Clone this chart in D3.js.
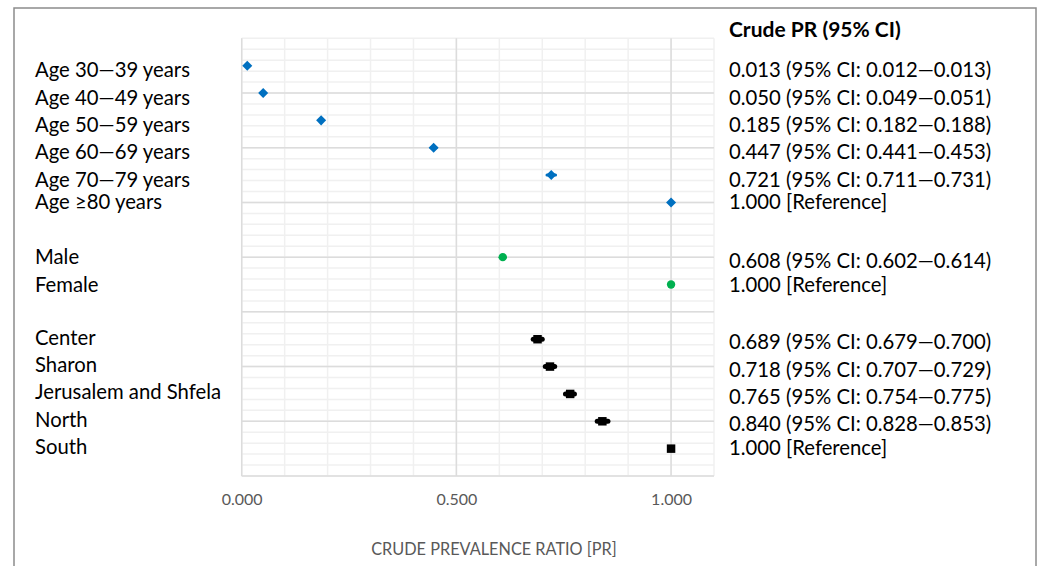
<!DOCTYPE html>
<html>
<head>
<meta charset="utf-8">
<script src="https://cdn.jsdelivr.net/npm/d3@7"></script>
<style>
  body { margin: 0; background: #fff; }
  svg text { font-family: Lato, "Open Sans", sans-serif; }
</style>
</head>
<body>
<div id="app"></div>
<script>
// rows of the forest plot
const labels = [
  'Age 30—39 years', 'Age 40—49 years', 'Age 50—59 years', 'Age 60—69 years',
  'Age 70—79 years', 'Age ≥80 years',
  'Male', 'Female',
  'Center', 'Sharon', 'Jerusalem and Shfela', 'North', 'South'
];
const groups = ['age', 'age', 'age', 'age', 'age', 'age', 'sex', 'sex',
  'region', 'region', 'region', 'region', 'region'];
// position on the hidden vertical axis (0 = top)
const rowPos = [0.5, 1, 1.5, 2, 2.5, 3, 4, 4.5, 5.5, 6, 6.5, 7, 7.5];
const pr = [0.013, 0.050, 0.185, 0.447, 0.721, 1.000, 0.608, 1.000, 0.689, 0.718, 0.765, 0.840, 1.000];
const ciLow = [0.012, 0.049, 0.182, 0.441, 0.711, null, 0.602, null, 0.679, 0.707, 0.754, 0.828, null];
const ciHigh = [0.013, 0.051, 0.188, 0.453, 0.731, null, 0.614, null, 0.700, 0.729, 0.775, 0.853, null];
const xTicks = [0, 0.5, 1.0];

const colors = { age: '#0070c0', sex: '#00b050', region: '#000000' };
// text boxes sit slightly off the marker rows
const leftOffset = (d) => d.group === 'age' ? (d.lo == null ? -1.6 : 3.7)
  : d.group === 'sex' ? -1 : -2.7;
const rightOffset = (d) => d.lo == null ? (d.group === 'sex' ? -0.5 : -1.5)
  : d.group === 'age' ? 3.5 : d.group === 'sex' ? 3 : 2;

const data = labels.map((label, i) => ({
  label, group: groups[i], row: rowPos[i], pr: pr[i], lo: ciLow[i], hi: ciHigh[i]
}));

const width = 1042, height = 566;
const svg = d3.select('#app').append('svg')
  .attr('width', width).attr('height', height);

// outer frame
svg.append('rect')
  .attr('x', 14).attr('y', 8).attr('width', 1022).attr('height', 570)
  .attr('fill', 'none').attr('stroke', '#8c8c8c').attr('stroke-width', 1.5);

const x = d3.scaleLinear().domain([0, 1.1]).range([241.7, 714]);
const y = d3.scaleLinear().domain([0, 8]).range([38.3, 476]);

const grid = svg.append('g');
// minor gridlines
grid.selectAll('line.vminor')
  .data(d3.range(0, 11.5, 1).map((d) => d / 10))
  .join('line')
  .attr('x1', (d) => x(d)).attr('x2', (d) => x(d))
  .attr('y1', y(0)).attr('y2', y(8))
  .attr('stroke', '#f0f0f0').attr('stroke-width', 1.5);
grid.selectAll('line.hminor')
  .data(d3.range(0, 41, 1).map((d) => d / 5))
  .join('line')
  .attr('x1', x(0)).attr('x2', x(1.1))
  .attr('y1', (d) => y(d)).attr('y2', (d) => y(d))
  .attr('stroke', '#f0f0f0').attr('stroke-width', 1.5);
// major gridlines
grid.selectAll('line.hmajor')
  .data(d3.range(1, 9))
  .join('line')
  .attr('x1', x(0)).attr('x2', x(1.1))
  .attr('y1', (d) => y(d)).attr('y2', (d) => y(d))
  .attr('stroke', '#dcdcdc').attr('stroke-width', 1.5);
grid.selectAll('line.vmajor')
  .data(xTicks)
  .join('line')
  .attr('x1', (d) => x(d)).attr('x2', (d) => x(d))
  .attr('y1', y(0)).attr('y2', y(8))
  .attr('stroke', '#dcdcdc').attr('stroke-width', 1.5);

// x axis tick labels
svg.append('g')
  .attr('transform', `translate(0, ${y(8)})`)
  .call(d3.axisBottom(x).tickValues(xTicks).tickFormat(d3.format('.3f')).tickSize(0).tickPadding(18))
  .call((g) => g.select('.domain').remove())
  .call((g) => g.selectAll('text')
    .attr('fill', '#595959').style('font-size', '16px')
    .style('font-family', 'Lato, sans-serif'));

svg.append('text')
  .attr('x', 494).attr('y', 548)
  .attr('text-anchor', 'middle').attr('dominant-baseline', 'central')
  .attr('fill', '#595959').style('font-size', '16.3px')
  .text('CRUDE PREVALENCE RATIO [PR]');

// error bars
const marks = svg.append('g');
marks.selectAll('line.err')
  .data(data.filter((d) => d.lo != null))
  .join('line')
  .attr('stroke', (d) => colors[d.group])
  .attr('stroke-linecap', 'round')
  .attr('x1', (d) => x(d.lo)).attr('x2', (d) => x(d.hi))
  .attr('y1', (d) => y(d.row)).attr('y2', (d) => y(d.row))
  .attr('stroke-width', (d) => d.group === 'region' ? 5 : 3);

// markers
const symbolFor = { age: d3.symbolDiamond2, sex: d3.symbolCircle, region: d3.symbolSquare };
const sizeFor = { age: 64, sex: 55, region: 72 };
marks.selectAll('path.pt')
  .data(data)
  .join('path')
  .attr('transform', (d) => `translate(${x(d.pr)}, ${y(d.row)})`)
  .attr('d', (d) => d3.symbol(symbolFor[d.group], sizeFor[d.group])())
  .attr('fill', (d) => colors[d.group]);

// row labels (left)
svg.append('g').selectAll('text')
  .data(data)
  .join('text')
  .attr('x', 35)
  .attr('y', (d) => y(d.row) + leftOffset(d))
  .attr('dominant-baseline', 'central')
  .attr('fill', '#000').style('font-size', '20.3px')
  .text((d) => d.label);

// estimates (right)
const fmt = d3.format('.3f');
svg.append('text')
  .attr('x', 729).attr('y', 28)
  .attr('dominant-baseline', 'central')
  .style('font-size', '21px').style('font-weight', 'bold')
  .text('Crude PR (95% CI)');

svg.append('g').selectAll('text')
  .data(data)
  .join('text')
  .attr('x', 729)
  .attr('y', (d) => y(d.row) + rightOffset(d))
  .attr('dominant-baseline', 'central')
  .attr('fill', '#000').style('font-size', '20.3px')
  .text((d) => d.lo == null
    ? `${fmt(d.pr)} [Reference]`
    : `${fmt(d.pr)} (95% CI: ${fmt(d.lo)}—${fmt(d.hi)})`);
</script>
</body>
</html>
